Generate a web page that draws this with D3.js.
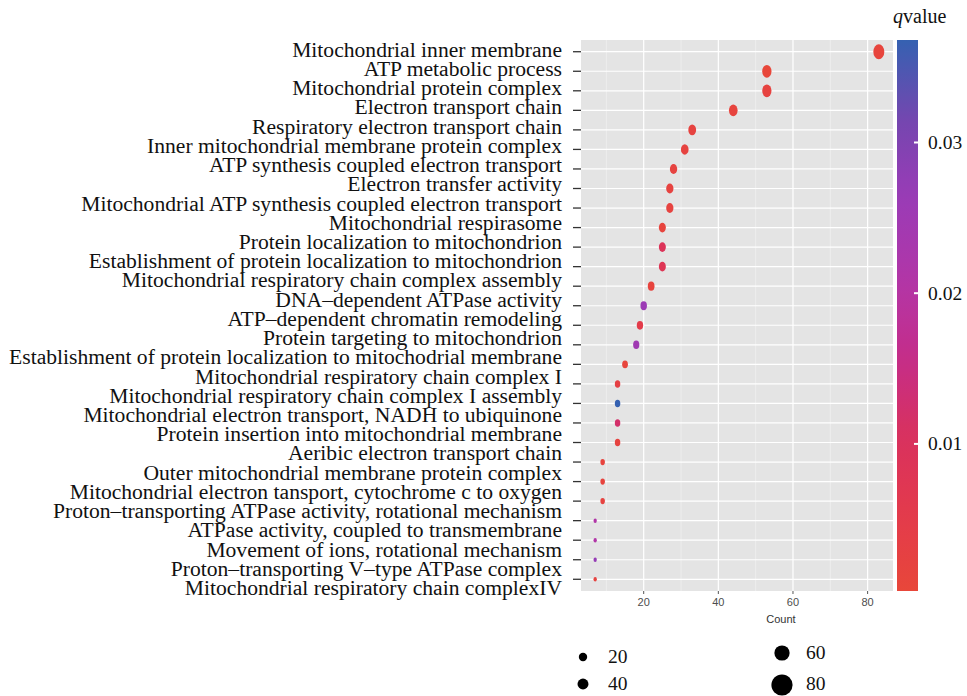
<!DOCTYPE html>
<html>
<head>
<meta charset="utf-8">
<script src="https://cdn.jsdelivr.net/npm/d3@7"></script>
<style>
  html, body { margin: 0; padding: 0; background: #ffffff; }
  svg { display: block; }
</style>
</head>
<body>
<svg id="chart" width="967" height="696"></svg>
<script>
// GO / pathway enrichment terms, top to bottom
const terms = [
  "Mitochondrial inner membrane",
  "ATP metabolic process",
  "Mitochondrial protein complex",
  "Electron transport chain",
  "Respiratory electron transport chain",
  "Inner mitochondrial membrane protein complex",
  "ATP synthesis coupled electron transport",
  "Electron transfer activity",
  "Mitochondrial ATP synthesis coupled electron transport",
  "Mitochondrial respirasome",
  "Protein localization to mitochondrion",
  "Establishment of protein localization to mitochondrion",
  "Mitochondrial respiratory chain complex assembly",
  "DNA\u2013dependent ATPase activity",
  "ATP\u2013dependent chromatin remodeling",
  "Protein targeting to mitochondrion",
  "Establishment of protein localization to mitochodrial membrane",
  "Mitochondrial respiratory chain complex I",
  "Mitochondrial respiratory chain complex I assembly",
  "Mitochondrial electron transport, NADH to ubiquinone",
  "Protein insertion into mitochondrial membrane",
  "Aeribic electron transport chain",
  "Outer mitochondrial membrane protein complex",
  "Mitochondrial electron tansport, cytochrome c to oxygen",
  "Proton\u2013transporting ATPase activity, rotational mechanism",
  "ATPase activity, coupled to transmembrane",
  "Movement of ions, rotational mechanism",
  "Proton\u2013transporting V\u2013type ATPase complex",
  "Mitochondrial respiratory chain complexIV"
];

// Gene count per plotted row
const counts = [83, 53, 53, 44, 33, 31, 28, 27, 27, 25,
                25, 25, 22, 20, 19, 18, 15, 13, 13, 13,
                13, 9, 9, 9, 7, 7, 7, 7];

// Adjusted p-value (q value) per plotted row
const qvalues = [0.0012, 0.00024, 0.002, 0.0015, 0.002, 0.002, 0.002, 0.002, 0.002, 0.0015,
                 0.009, 0.008, 0.0015, 0.026, 0.005, 0.025, 0.001, 0.003, 0.0368, 0.012,
                 0.002, 0.0015, 0.0015, 0.002, 0.021, 0.021, 0.027, 0.002];

const xTicks = [20, 40, 60, 80];
const xMinorTicks = [10, 30, 50, 70];
const qTicks = [0.01, 0.02, 0.03];
const sizeKeys = [20, 40, 60, 80];

// colour ramp, low q (red) to high q (blue)
const rampColors = ["#e8473a", "#e33a4c", "#d8315f", "#c42d8b", "#b136a8", "#9a3bb6", "#7447b0", "#3561b1"];

const rows = counts.map((c, i) => ({ term: terms[i], count: c, q: qvalues[i] }));

const svg = d3.select("#chart");

const panel = { left: 581, right: 893, top: 40, bottom: 591 };

// x: count, with 5% expansion on each side
const cExt = d3.extent(counts);
const cPad = (cExt[1] - cExt[0]) * 0.05;
const x = d3.scaleLinear().domain([cExt[0] - cPad, cExt[1] + cPad]).range([panel.left, panel.right]);

// y: one slot per plotted term
const y = d3.scalePoint().domain(rows.map(d => d.term)).range([panel.top, panel.bottom]).padding(0.6);

// label baselines for the term list
const yLabel = d3.scalePoint().domain(terms).range([56.7, 595]);

// colour scale
const qExt = d3.extent(qvalues);
const color = d3.scaleLinear()
  .domain(d3.range(rampColors.length).map(i => qExt[0] + (qExt[1] - qExt[0]) * i / (rampColors.length - 1)))
  .range(rampColors)
  .interpolate(d3.interpolateRgb);

// point size: area scaled between size 1 and 6
const sizeT = d3.scaleLinear().domain([0, 1]).range([1, 6]);
const pointSize = v => sizeT(Math.sqrt((v - cExt[0]) / (cExt[1] - cExt[0])));
const rx = v => 0.88 + 0.77 * pointSize(v);
const ry = v => rx(v) * 1.37;

// panel background
svg.append("rect")
  .attr("x", panel.left).attr("y", panel.top)
  .attr("width", panel.right - panel.left).attr("height", panel.bottom - panel.top)
  .attr("fill", "#e4e4e4");

// minor and major grid
svg.append("g").selectAll("line").data(xMinorTicks).join("line")
  .attr("x1", d => x(d)).attr("x2", d => x(d))
  .attr("y1", panel.top).attr("y2", panel.bottom)
  .attr("stroke", "#f4f4f4").attr("stroke-width", 0.6);
svg.append("g").selectAll("line").data(xTicks).join("line")
  .attr("x1", d => x(d)).attr("x2", d => x(d))
  .attr("y1", panel.top).attr("y2", panel.bottom)
  .attr("stroke", "#ffffff").attr("stroke-width", 1.2);
svg.append("g").selectAll("line").data(rows).join("line")
  .attr("x1", panel.left).attr("x2", panel.right)
  .attr("y1", d => y(d.term)).attr("y2", d => y(d.term))
  .attr("stroke", "#ffffff").attr("stroke-width", 1.2);

// y ticks
svg.append("g").selectAll("line").data(rows).join("line")
  .attr("x1", panel.left - 8).attr("x2", panel.left)
  .attr("y1", d => y(d.term)).attr("y2", d => y(d.term))
  .attr("stroke", "#333333").attr("stroke-width", 1.3);

// term labels
svg.append("g").selectAll("text").data(terms).join("text")
  .attr("x", 562).attr("y", d => yLabel(d))
  .attr("text-anchor", "end")
  .attr("font-family", "'Liberation Serif', 'Times New Roman', serif")
  .attr("font-size", 21.6)
  .attr("fill", "#111111")
  .text(d => d);

// x axis ticks and labels
svg.append("g").selectAll("line").data(xTicks).join("line")
  .attr("x1", d => x(d)).attr("x2", d => x(d))
  .attr("y1", panel.bottom).attr("y2", panel.bottom + 3)
  .attr("stroke", "#555555").attr("stroke-width", 1);
svg.append("g").selectAll("text").data(xTicks).join("text")
  .attr("x", d => x(d)).attr("y", 606)
  .attr("text-anchor", "middle")
  .attr("font-family", "'Liberation Sans', Arial, sans-serif")
  .attr("font-size", 11)
  .attr("fill", "#4d4d4d")
  .text(d => d);
svg.append("text")
  .attr("x", 781).attr("y", 623)
  .attr("text-anchor", "middle")
  .attr("font-family", "'Liberation Sans', Arial, sans-serif")
  .attr("font-size", 11)
  .attr("fill", "#333333")
  .text("Count");

// points
svg.append("g").selectAll("ellipse").data(rows).join("ellipse")
  .attr("cx", d => x(d.count)).attr("cy", d => y(d.term))
  .attr("rx", d => rx(d.count)).attr("ry", d => ry(d.count))
  .attr("fill", d => color(d.q));

// colour bar
const bar = { x: 897, w: 21 };
const yBar = d3.scaleLinear().domain(qExt).range([panel.bottom, panel.top]);
const grad = svg.append("defs").append("linearGradient")
  .attr("id", "qgrad").attr("x1", 0).attr("y1", 1).attr("x2", 0).attr("y2", 0);
d3.range(0, 1.0001, 0.05).forEach(t => {
  grad.append("stop").attr("offset", t).attr("stop-color", color(qExt[0] + t * (qExt[1] - qExt[0])));
});
svg.append("rect")
  .attr("x", bar.x).attr("y", panel.top)
  .attr("width", bar.w).attr("height", panel.bottom - panel.top)
  .attr("fill", "url(#qgrad)");
svg.append("g").selectAll("line").data(qTicks).join("line")
  .attr("x1", bar.x + bar.w - 4).attr("x2", bar.x + bar.w)
  .attr("y1", d => yBar(d)).attr("y2", d => yBar(d))
  .attr("stroke", "#ffffff").attr("stroke-width", 2);
svg.append("g").selectAll("text").data(qTicks).join("text")
  .attr("x", 928).attr("y", d => yBar(d) + 6.5)
  .attr("font-family", "'Liberation Serif', 'Times New Roman', serif")
  .attr("font-size", 19.5)
  .attr("fill", "#111111")
  .text(d => d.toFixed(2));

const qt = svg.append("text")
  .attr("x", 893).attr("y", 22.5)
  .attr("font-family", "'Liberation Serif', 'Times New Roman', serif")
  .attr("font-size", 20)
  .attr("fill", "#111111");
qt.append("tspan").attr("font-style", "italic").text("q");
qt.append("tspan").text("value");

// size legend
const legendR = d3.scalePow().exponent(2).domain([20, 80]).range([4.2, 10.6]);
const legendPos = [
  { cx: 583, cy: 657, tx: 608, ty: 663 },
  { cx: 583, cy: 684, tx: 608, ty: 690 },
  { cx: 782, cy: 653, tx: 806, ty: 659 },
  { cx: 782, cy: 685, tx: 806, ty: 690 }
];
const lg = svg.append("g").selectAll("g").data(sizeKeys).join("g");
lg.append("circle")
  .attr("cx", (d, i) => legendPos[i].cx).attr("cy", (d, i) => legendPos[i].cy)
  .attr("r", d => legendR(d))
  .attr("fill", "#000000");
lg.append("text")
  .attr("x", (d, i) => legendPos[i].tx).attr("y", (d, i) => legendPos[i].ty)
  .attr("font-family", "'Liberation Serif', 'Times New Roman', serif")
  .attr("font-size", 19.5)
  .attr("fill", "#111111")
  .text(d => d);
</script>
</body>
</html>
